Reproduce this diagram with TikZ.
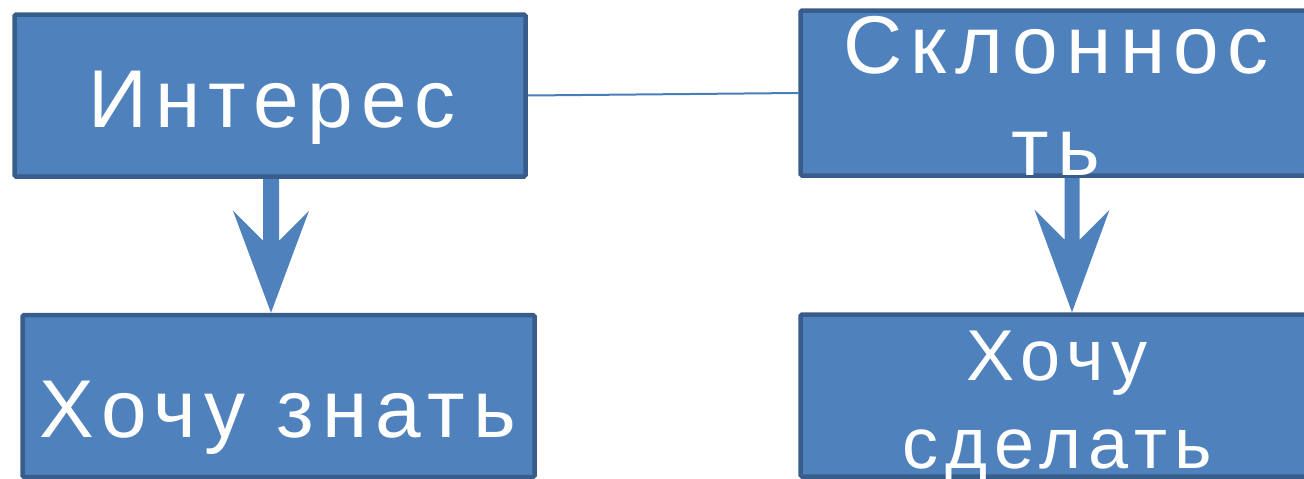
\documentclass[tikz,border=0pt]{standalone}
\usepackage{fontspec}
\setmainfont{Liberation Sans}[LetterSpace=10]
\usetikzlibrary{calc,backgrounds}
\definecolor{boxfill}{HTML}{4F81BD}
\definecolor{boxline}{HTML}{385D8A}
\definecolor{linkcol}{HTML}{4A7EBB}
\tikzset{
  box/.style={draw=boxline, fill=boxfill, line width=4.5pt, rounded corners=1.5pt, inner sep=0pt},
  txt/.style={text=white, inner sep=0pt, align=center},
  big/.style={font=\fontsize{82}{102}\selectfont},
  small/.style={font=\fontsize{72}{88}\selectfont},
  blockarrow/.style={fill=boxfill, draw=none},
  link/.style={draw=linkcol, line width=2pt}
}
\begin{document}
\begin{tikzpicture}[x=1pt,y=-1pt]
\useasboundingbox (0,0) rectangle (1304,479);
\clip (0,0) rectangle (1304,479);
% boxes
\node[box, minimum width=511pt, minimum height=162pt] (a) at (270,95.5) {};
\node[box, minimum width=511pt, minimum height=165pt] (b) at (1056,93) {};
\node[box, minimum width=512pt, minimum height=162pt] (c) at (278.5,396) {};
\node[box, minimum width=511pt, minimum height=162pt] (d) at (1056,395.5) {};
% texts (base anchor = baseline of the last line)
\node[txt, big, anchor=base] (ta) at (272,127) {Интерес};
\node[txt, big, anchor=base] (tb) at (1056,175) {Склоннос\\ть};
\node[txt, big, anchor=base] (tc) at (278,437) {Хочу знать};
\node[txt, small, anchor=base] (td) at (1057,468) {Хочу\\сделать};
% connectors
\begin{scope}[on background layer]
\path[link] (a.east) -- (b.west);
\path[blockarrow] let \p1=($(a.south)+(1,0)$), \p2=(\p1 |- c.north) in
  (\x1-8pt,\y1) -- (\x1-8pt,\y1-62pt) -- (\x1-38pt,\y1-32pt) -- (\x2,\y2)
  -- (\x1+38pt,\y1-32pt) -- (\x1+8pt,\y1-62pt) -- (\x1+8pt,\y1) -- cycle;
\path[blockarrow] let \p1=($(b.south)+(16,0)$), \p2=(\p1 |- d.north) in
  (\x1-7.5pt,\y1) -- (\x1-7.5pt,\y1-62pt) -- (\x1-37.5pt,\y1-32pt) -- (\x2,\y2)
  -- (\x1+37.5pt,\y1-32pt) -- (\x1+7.5pt,\y1-62pt) -- (\x1+7.5pt,\y1) -- cycle;
\end{scope}
\end{tikzpicture}
\end{document}
